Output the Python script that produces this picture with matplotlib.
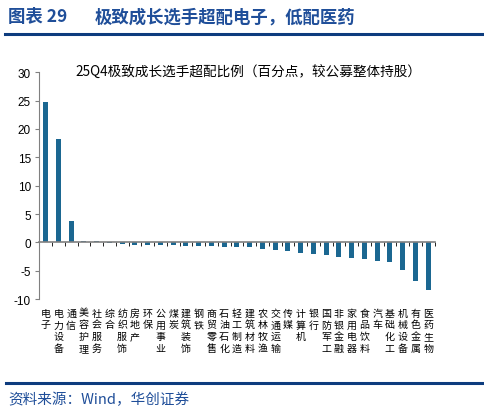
import numpy as np
import matplotlib
matplotlib.use('Agg')
import matplotlib.pyplot as plt
from matplotlib.lines import Line2D

plt.rcParams['font.family'] = ['Noto Sans CJK SC', 'DejaVu Sans']

# industries, sorted by overweight
categories = ['电子', '电力设备', '通信', '美容护理', '社会服务', '综合', '纺织服饰',
              '房地产', '环保', '公用事业', '煤炭', '建筑装饰', '钢铁', '商贸零售',
              '石油石化', '轻工制造', '建筑材料', '农林牧渔', '交通运输', '传媒',
              '计算机', '银行', '国防军工', '非银金融', '家用电器', '食品饮料',
              '汽车', '基础化工', '机械设备', '有色金属', '医药生物']
# overweight vs all public funds (pct points)
values = [24.7, 18.2, 3.8, 0.3, 0.2, -0.1, -0.35, -0.4, -0.4, -0.47, -0.53,
          -0.59, -0.6, -0.65, -0.76, -0.78, -0.88, -1.18, -1.29, -1.53, -1.88,
          -2.12, -2.18, -2.53, -2.82, -2.88, -3.29, -3.41, -4.82, -6.76, -8.35]
yticks = [30, 25, 20, 15, 10, 5, 0, -5, -10]

bar_color = '#1B6791'
head_color = '#1F4E99'
line_color = '#0D3C7E'

fig = plt.figure(figsize=(4.85, 4.14), dpi=100)
ax = fig.add_axes([0.081, 0.275, 0.815, 0.548])

x = np.arange(len(categories))
ax.bar(x, values, width=0.4, color=bar_color, zorder=2)

ax.set_xlim(-0.5, len(categories) - 0.5)
ax.set_ylim(-10, 30)
ax.set_yticks(yticks)
ax.set_yticklabels([str(v) for v in yticks], family='Liberation Sans', fontsize=8.5)
ax.tick_params(axis='y', length=3, color='#808080', pad=3)

for s in ['top', 'right']:
    ax.spines[s].set_visible(False)
ax.spines['left'].set_color('#808080')
ax.spines['bottom'].set_position(('data', 0))
ax.spines['bottom'].set_color('#808080')
ax.spines['bottom'].set_linewidth(1.2)

# category labels, one character per line
ax.set_xticks(x)
ax.set_xticklabels(['\n'.join(c) for c in categories], fontsize=7.2, linespacing=1.22)
ax.tick_params(axis='x', length=0, pad=47)
ax.set_xticks(np.arange(-0.5, len(categories)), minor=True)
ax.tick_params(axis='x', which='minor', length=3, direction='out', color='black')

ax.text(0.53, 1.0, '25Q4极致成长选手超配比例（百分点，较公募整体持股）',
        transform=ax.transAxes, ha='center', va='center', fontsize=9.8)

# header and footer
fig.text(0.017, 0.958, '图表 29', ha='left', va='center',
         fontsize=12.5, fontweight='bold', color=head_color)
fig.text(0.196, 0.958, '极致成长选手超配电子，低配医药', ha='left', va='center',
         fontsize=12.5, fontweight='bold', color=head_color)
fig.add_artist(Line2D([0.01, 0.995], [0.915, 0.915], color=line_color, lw=2.2))
fig.add_artist(Line2D([0.012, 0.995], [0.072, 0.072], color=line_color, lw=2.2))
fig.text(0.017, 0.034, '资料来源：Wind，华创证券', ha='left', va='center',
         fontsize=10.5, style='italic', color=head_color)

fig.savefig('out.png', dpi=100)
